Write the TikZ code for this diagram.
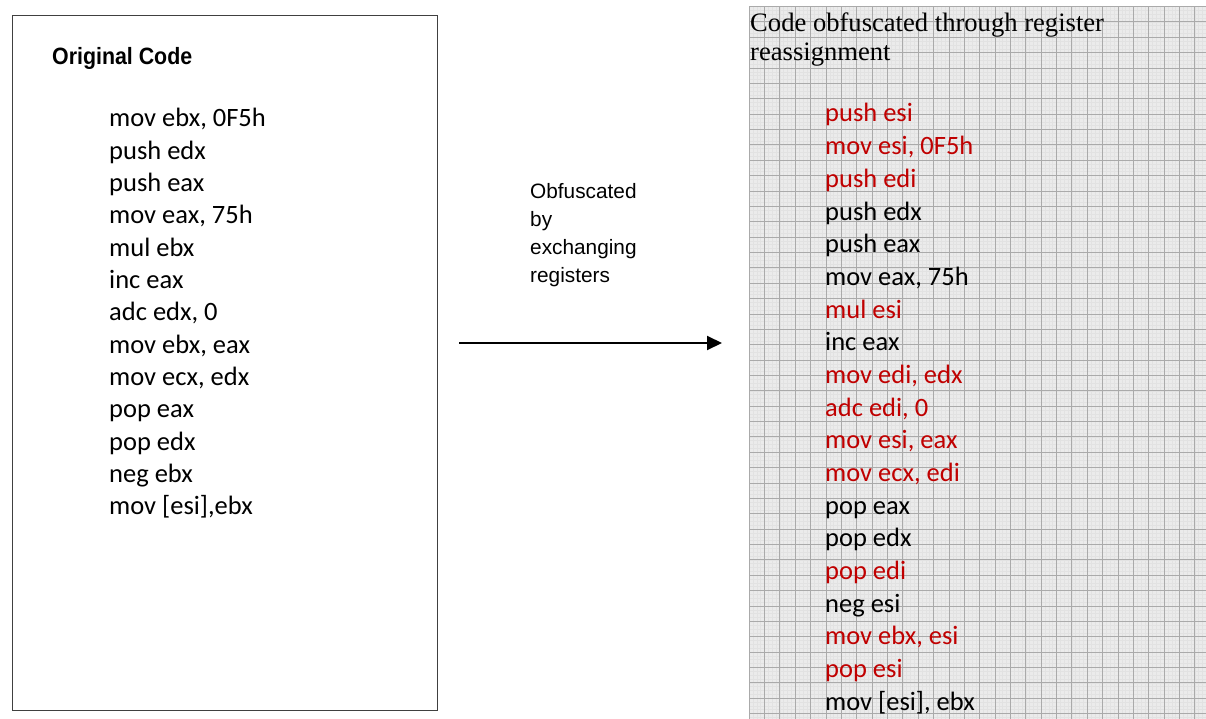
\documentclass[tikz,border=0pt]{standalone}
\usepackage{fontspec}
\setmainfont{Carlito}
\newfontfamily\arialf{Liberation Sans}
\newfontfamily\arialn{Liberation Sans}[FakeStretch=0.905]
\newfontfamily\timesf{Liberation Serif}
\usetikzlibrary{arrows.meta}
\definecolor{redc}{RGB}{192,0,0}
\definecolor{gridbg}{RGB}{235,235,235}
\definecolor{gridminor}{RGB}{226,226,226}
\definecolor{gridmajor}{RGB}{170,170,170}
\definecolor{boxline}{RGB}{64,64,64}
\begin{document}
\begin{tikzpicture}[x=1pt,y=-1pt,
  codeline/.style={anchor=base west,inner sep=0pt,font=\fontsize{26.5}{32}\selectfont},
  redline/.style={codeline,text=redc},
  sidelabel/.style={anchor=base west,inner sep=0pt,font=\arialf\fontsize{20.8}{24}\selectfont},
  titlel/.style={anchor=base west,inner sep=0pt,font=\arialn\bfseries\fontsize{23.6}{28}\selectfont},
  titler/.style={anchor=base west,inner sep=0pt,font=\timesf\fontsize{26.6}{30}\selectfont}]
\useasboundingbox (0,0) rectangle (1206,719);
\fill[white] (0,0) rectangle (1206,719);
% grid panel
\fill[gridbg] (749,6.4) rectangle (1206,719);
\begin{scope}
\clip (749,6.4) rectangle (1206,719);
\foreach \i in {0,...,120}{
  \draw[gridminor,line width=0.3pt] ({749+\i*3.8425},6.4) -- ({749+\i*3.8425},719);
}
\foreach \j in {0,...,186}{
  \draw[gridminor,line width=0.3pt] (749,{6.4+\j*3.8425}) -- (1206,{6.4+\j*3.8425});
}
\foreach \i in {0,...,30}{
  \draw[gridmajor,line width=0.6pt] ({749+\i*15.37},6.4) -- ({749+\i*15.37},719);
}
\foreach \j in {0,...,47}{
  \draw[gridmajor,line width=0.6pt] (749,{6.4+\j*15.37}) -- (1206,{6.4+\j*15.37});
}
\end{scope}
% left box
\draw[boxline,line width=1pt] (12,16) rectangle (437,710);
\node[titlel] (otitle) at (52,64.3) {Original Code};
\foreach \t [count=\k from 0] in {{mov ebx, 0F5h},push edx,push eax,{mov eax, 75h},mul ebx,inc eax,{adc edx, 0},{mov ebx, eax},{mov ecx, edx},pop eax,pop edx,neg ebx,{mov [esi],ebx}}{
  \node[codeline] (o\k) at (109,{127+\k*32.3}) {\t};
}
% middle label
\node[sidelabel] (m1) at (530,198.3) {Obfuscated};
\node[sidelabel] (m2) at (530,226.5) {by};
\node[sidelabel] (m3) at (530,254.6) {exchanging};
\node[sidelabel] (m4) at (530,282.8) {registers};
% arrow
\coordinate (astart) at (459,343);
\coordinate (aend) at (722,343);
\draw[line width=2pt,-{Triangle[length=15pt,width=14pt]}] (astart) -- (aend);
% right title
\node[titler] (rt1) at (750,31.7) {Code obfuscated through register};
\node[titler] (rt2) at (750,60.7) {reassignment};
% right code
\node[redline] (r0) at (825,122) {push esi};
\node[redline] (r1) at (825,{122+1*32.67}) {mov esi, 0F5h};
\node[redline] (r2) at (825,{122+2*32.67}) {push edi};
\node[codeline] (r3) at (825,{122+3*32.67}) {push edx};
\node[codeline] (r4) at (825,{122+4*32.67}) {push eax};
\node[codeline] (r5) at (825,{122+5*32.67}) {mov eax, 75h};
\node[redline] (r6) at (825,{122+6*32.67}) {mul esi};
\node[codeline] (r7) at (825,{122+7*32.67}) {inc eax};
\node[redline] (r8) at (825,{122+8*32.67}) {mov edi, edx};
\node[redline] (r9) at (825,{122+9*32.67}) {adc edi, 0};
\node[redline] (r10) at (825,{122+10*32.67}) {mov esi, eax};
\node[redline] (r11) at (825,{122+11*32.67}) {mov ecx, edi};
\node[codeline] (r12) at (825,{122+12*32.67}) {pop eax};
\node[codeline] (r13) at (825,{122+13*32.67}) {pop edx};
\node[redline] (r14) at (825,{122+14*32.67}) {pop edi};
\node[codeline] (r15) at (825,{122+15*32.67}) {neg esi};
\node[redline] (r16) at (825,{122+16*32.67}) {mov ebx, esi};
\node[redline] (r17) at (825,{122+17*32.67}) {pop esi};
\node[codeline] (r18) at (825,{122+18*32.67}) {mov [esi], ebx};
\end{tikzpicture}
\end{document}
